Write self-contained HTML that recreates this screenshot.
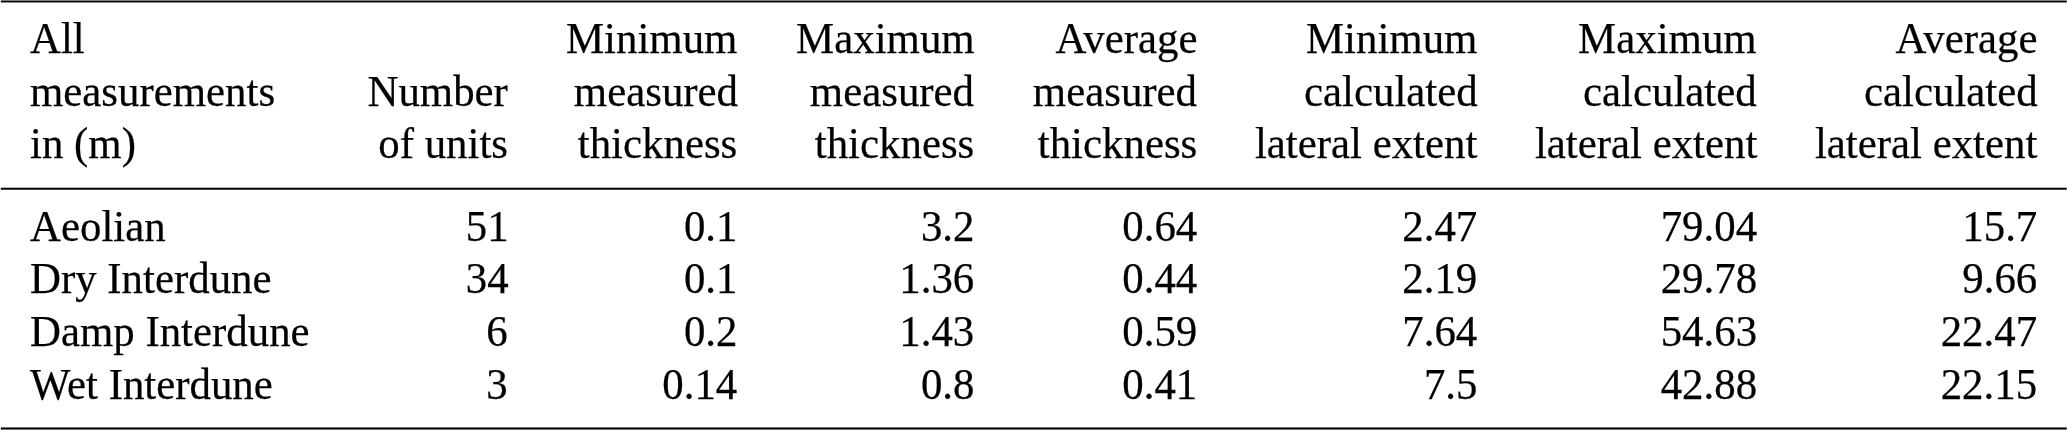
<!DOCTYPE html>
<html>
<head>
<meta charset="utf-8">
<title>Table</title>
<style>
html,body{margin:0;padding:0;background:#fff;}
body{width:2067px;height:430px;position:relative;overflow:hidden;
 font-family:"Liberation Serif",serif;font-size:43.6px;line-height:52px;color:#000;}
.rule{position:absolute;height:1px;}
.t{position:absolute;white-space:nowrap;height:52px;}
#txt{position:absolute;left:0;top:0;width:2067px;height:430px;will-change:transform;-webkit-text-stroke:0.25px #000;}
.l{left:30px;text-align:left;transform:scaleX(0.9828);transform-origin:0 0;}
.r{text-align:right;transform:scaleX(0.9828);transform-origin:100% 0;}
</style>
</head>
<body>
<div class="rule" style="top:0px;left:1px;width:2065px;background:#808080;"></div>
<div class="rule" style="top:0px;left:0;width:1px;background:#e6e6e6;"></div>
<div class="rule" style="top:0px;left:2066px;width:1px;background:#a0a0a0;"></div>
<div class="rule" style="top:1px;left:1px;width:2065px;background:#000000;"></div>
<div class="rule" style="top:1px;left:0;width:1px;background:#cccccc;"></div>
<div class="rule" style="top:1px;left:2066px;width:1px;background:#404040;"></div>
<div class="rule" style="top:2px;left:1px;width:2065px;background:#909090;"></div>
<div class="rule" style="top:2px;left:0;width:1px;background:#e9e9e9;"></div>
<div class="rule" style="top:2px;left:2066px;width:1px;background:#acacac;"></div>
<div class="rule" style="top:187px;left:1px;width:2065px;background:#b8b8b8;"></div>
<div class="rule" style="top:187px;left:0;width:1px;background:#f1f1f1;"></div>
<div class="rule" style="top:187px;left:2066px;width:1px;background:#cacaca;"></div>
<div class="rule" style="top:188px;left:1px;width:2065px;background:#000000;"></div>
<div class="rule" style="top:188px;left:0;width:1px;background:#cccccc;"></div>
<div class="rule" style="top:188px;left:2066px;width:1px;background:#404040;"></div>
<div class="rule" style="top:189px;left:1px;width:2065px;background:#484848;"></div>
<div class="rule" style="top:189px;left:0;width:1px;background:#dadada;"></div>
<div class="rule" style="top:189px;left:2066px;width:1px;background:#767676;"></div>
<div class="rule" style="top:427px;left:1px;width:2065px;background:#747474;"></div>
<div class="rule" style="top:427px;left:0;width:1px;background:#e3e3e3;"></div>
<div class="rule" style="top:427px;left:2066px;width:1px;background:#979797;"></div>
<div class="rule" style="top:428px;left:1px;width:2065px;background:#000000;"></div>
<div class="rule" style="top:428px;left:0;width:1px;background:#cccccc;"></div>
<div class="rule" style="top:428px;left:2066px;width:1px;background:#404040;"></div>
<div class="rule" style="top:429px;left:1px;width:2065px;background:#747474;"></div>
<div class="rule" style="top:429px;left:0;width:1px;background:#e3e3e3;"></div>
<div class="rule" style="top:429px;left:2066px;width:1px;background:#979797;"></div>

<div id="txt">
<div class="t l" style="top:12px;">All</div>
<div class="t l" style="top:65px;">measurements</div>
<div class="t l" style="top:117px;">in (m)</div>
<div class="t r" style="top:65px;right:1558.8px;">Number</div>
<div class="t r" style="top:117px;right:1558.8px;">of units</div>
<div class="t r" style="top:12px;right:1329.4px;">Minimum</div>
<div class="t r" style="top:65px;right:1329.4px;">measured</div>
<div class="t r" style="top:117px;right:1329.4px;">thickness</div>
<div class="t r" style="top:12px;right:1092.5px;">Maximum</div>
<div class="t r" style="top:65px;right:1092.5px;">measured</div>
<div class="t r" style="top:117px;right:1092.5px;">thickness</div>
<div class="t r" style="top:12px;right:870px;">Average</div>
<div class="t r" style="top:65px;right:870px;">measured</div>
<div class="t r" style="top:117px;right:870px;">thickness</div>
<div class="t r" style="top:12px;right:589.7px;">Minimum</div>
<div class="t r" style="top:65px;right:589.7px;">calculated</div>
<div class="t r" style="top:117px;right:589.7px;">lateral extent</div>
<div class="t r" style="top:12px;right:309.9000000000001px;">Maximum</div>
<div class="t r" style="top:65px;right:309.9000000000001px;">calculated</div>
<div class="t r" style="top:117px;right:309.9000000000001px;">lateral extent</div>
<div class="t r" style="top:12px;right:29.5px;">Average</div>
<div class="t r" style="top:65px;right:29.5px;">calculated</div>
<div class="t r" style="top:117px;right:29.5px;">lateral extent</div>
<div class="t l" style="top:200px;">Aeolian</div>
<div class="t l" style="top:252px;">Dry Interdune</div>
<div class="t l" style="top:305px;">Damp Interdune</div>
<div class="t l" style="top:358px;">Wet Interdune</div>
<div class="t r" style="top:200px;right:1558.8px;">51</div>
<div class="t r" style="top:252px;right:1558.8px;">34</div>
<div class="t r" style="top:305px;right:1558.8px;">6</div>
<div class="t r" style="top:358px;right:1558.8px;">3</div>
<div class="t r" style="top:200px;right:1329.4px;">0.1</div>
<div class="t r" style="top:252px;right:1329.4px;">0.1</div>
<div class="t r" style="top:305px;right:1329.4px;">0.2</div>
<div class="t r" style="top:358px;right:1329.4px;">0.14</div>
<div class="t r" style="top:200px;right:1092.5px;">3.2</div>
<div class="t r" style="top:252px;right:1092.5px;">1.36</div>
<div class="t r" style="top:305px;right:1092.5px;">1.43</div>
<div class="t r" style="top:358px;right:1092.5px;">0.8</div>
<div class="t r" style="top:200px;right:870px;">0.64</div>
<div class="t r" style="top:252px;right:870px;">0.44</div>
<div class="t r" style="top:305px;right:870px;">0.59</div>
<div class="t r" style="top:358px;right:870px;">0.41</div>
<div class="t r" style="top:200px;right:589.7px;">2.47</div>
<div class="t r" style="top:252px;right:589.7px;">2.19</div>
<div class="t r" style="top:305px;right:589.7px;">7.64</div>
<div class="t r" style="top:358px;right:589.7px;">7.5</div>
<div class="t r" style="top:200px;right:309.9000000000001px;">79.04</div>
<div class="t r" style="top:252px;right:309.9000000000001px;">29.78</div>
<div class="t r" style="top:305px;right:309.9000000000001px;">54.63</div>
<div class="t r" style="top:358px;right:309.9000000000001px;">42.88</div>
<div class="t r" style="top:200px;right:29.5px;">15.7</div>
<div class="t r" style="top:252px;right:29.5px;">9.66</div>
<div class="t r" style="top:305px;right:29.5px;">22.47</div>
<div class="t r" style="top:358px;right:29.5px;">22.15</div>
</div>
</body>
</html>
